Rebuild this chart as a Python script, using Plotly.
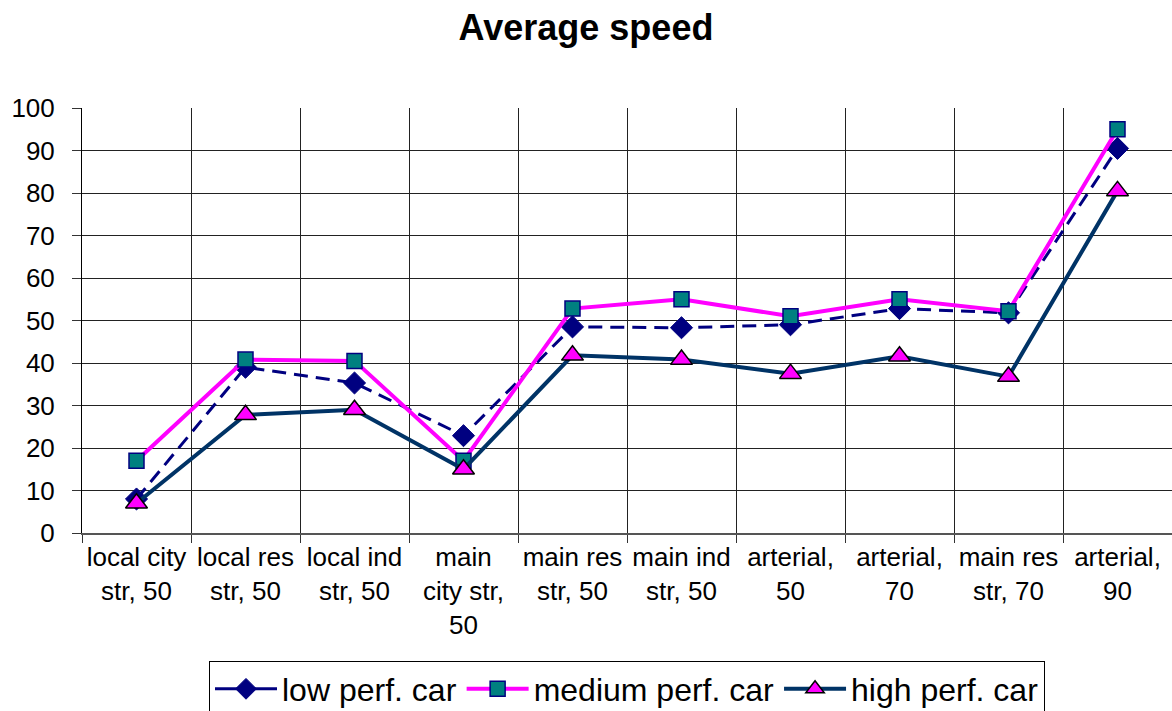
import plotly.graph_objects as go

# Road types (category axis)
road_types = [
    "local city<br>str, 50",
    "local res<br>str, 50",
    "local ind<br>str, 50",
    "main<br>city str,<br>50",
    "main res<br>str, 50",
    "main ind<br>str, 50",
    "arterial,<br>50",
    "arterial,<br>70",
    "main res<br>str, 70",
    "arterial,<br>90",
]

# Average speed per vehicle class
low_perf = [8.0, 39.0, 35.3, 22.9, 48.5, 48.3, 49.0, 52.8, 51.8, 90.5]
medium_perf = [17.0, 40.8, 40.5, 17.0, 52.8, 55.0, 51.0, 55.0, 52.2, 95.0]
high_perf = [7.0, 27.8, 29.0, 15.0, 41.8, 40.8, 37.5, 41.6, 36.8, 80.5]

y_ticks = list(range(0, 101, 10))

FONT = "Liberation Sans, Arial, sans-serif"

LOW_MARKER = dict(symbol="diamond", size=17, color="#000080",
                  line=dict(color="#000080", width=1))

fig = go.Figure()

# Low-performance series: dashed on the chart, solid key in the legend
fig.add_trace(go.Scatter(
    x=road_types, y=low_perf, name="low perf. car",
    mode="lines+markers", showlegend=False, legendgroup="low",
    line=dict(color="#000080", width=3, dash="14px,8px"),
    marker=LOW_MARKER,
))
fig.add_trace(go.Scatter(
    x=[road_types[0]], y=[None], name="low perf. car",
    mode="lines+markers", legendgroup="low",
    line=dict(color="#000080", width=3),
    marker=LOW_MARKER,
))
fig.add_trace(go.Scatter(
    x=road_types, y=medium_perf, name="medium perf. car",
    mode="lines+markers",
    line=dict(color="#FF00FF", width=4),
    marker=dict(symbol="square", size=15, color="#008080",
                line=dict(color="#000080", width=1.5)),
))
fig.add_trace(go.Scatter(
    x=road_types, y=high_perf, name="high perf. car",
    mode="lines+markers",
    line=dict(color="#003366", width=4),
    marker=dict(symbol="triangle-up", size=19, color="#FF00FF",
                line=dict(color="#000000", width=1.5)),
))

fig.update_layout(
    width=1172, height=711,
    margin=dict(l=82, r=0, t=108, b=178, autoexpand=False),
    paper_bgcolor="white", plot_bgcolor="white",
    font=dict(family=FONT, color="black"),
    title=dict(text="<b>Average speed</b>", x=0.5, xref="container",
               xanchor="center", y=0.962, yanchor="middle",
               font=dict(size=36, family=FONT, color="black")),
    showlegend=True,
    legend=dict(orientation="h", x=0.5, xanchor="center",
                yref="container", y=0.071, yanchor="top",
                font=dict(size=32, family=FONT, color="black"),
                bordercolor="#000000", borderwidth=1, bgcolor="white",
                itemwidth=62, tracegroupgap=0, traceorder="normal"),
)

fig.update_xaxes(
    type="category",
    range=[-0.5, 9.5],
    automargin=False,
    tickson="boundaries",
    showgrid=True, gridcolor="#222222", gridwidth=1,
    showline=True, linecolor="#555555", linewidth=2,
    ticks="outside", ticklen=8, tickcolor="#333333",
    tickfont=dict(size=26, family=FONT, color="black"),
    tickangle=0,
)
fig.update_yaxes(
    range=[0, 100], tickvals=y_ticks,
    automargin=False,
    showgrid=True, gridcolor="#222222", gridwidth=1,
    zeroline=False,
    showline=True, linecolor="#000000", linewidth=1,
    ticks="outside", ticklen=9, tickcolor="#333333",
    tickfont=dict(size=26, family=FONT, color="black"),
    ticklabelstandoff=12,
)

fig.write_html("out.html")
